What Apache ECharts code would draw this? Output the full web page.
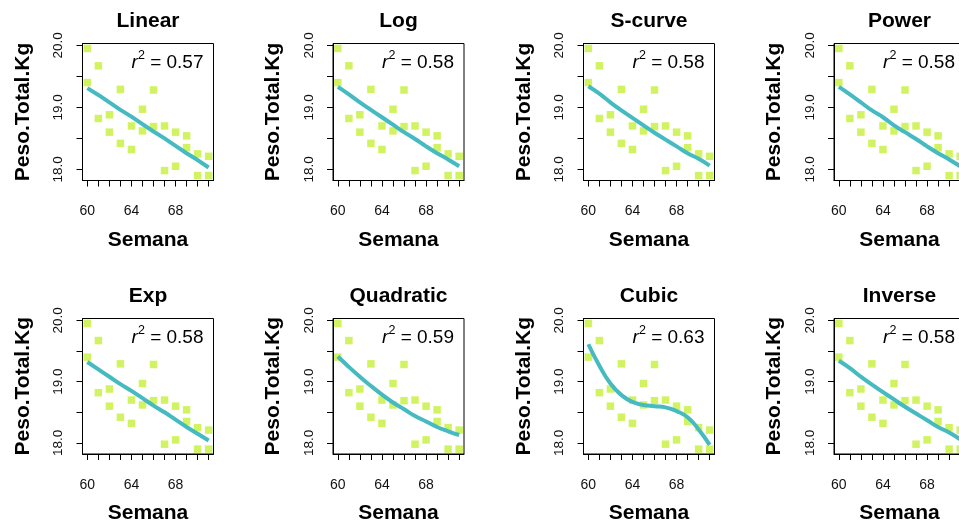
<!DOCTYPE html>
<html><head><meta charset="utf-8">
<script src="https://cdn.jsdelivr.net/npm/echarts@6/dist/echarts.min.js"></script>
<style>html,body{margin:0;padding:0;background:#fff;overflow:hidden}#c{width:1002px;height:525px}</style>
</head><body><div id="c"></div>
<script>
// ---- data ----
const weeks = [60, 61, 62, 63, 64, 65, 66, 67, 68, 69, 70, 71];
const pesoA = [19.95, 19.67, 18.88, 19.29, 18.70, 18.97, 19.28, 18.70, 18.60, 18.54, 18.25, 18.21];
const pesoB = [19.40, 18.82, 18.60, 18.42, 18.32, 18.62, 18.69, 17.98, 18.05, 18.35, 17.90, 17.90];

const modelNames = ['Linear', 'Log', 'S-curve', 'Power', 'Exp', 'Quadratic', 'Cubic', 'Inverse'];
const rSquared = ['0.57', '0.58', '0.58', '0.58', '0.58', '0.59', '0.63', '0.58'];

const fitLinear    = [19.31, 19.20, 19.08, 18.96, 18.85, 18.73, 18.61, 18.50, 18.38, 18.26, 18.15, 18.03];
const fitLog       = [19.33, 19.21, 19.08, 18.96, 18.84, 18.72, 18.60, 18.49, 18.37, 18.26, 18.16, 18.05];
const fitSCurve    = [19.34, 19.22, 19.08, 18.95, 18.83, 18.71, 18.59, 18.48, 18.37, 18.26, 18.17, 18.06];
const fitPower     = [19.33, 19.21, 19.08, 18.95, 18.84, 18.71, 18.60, 18.49, 18.37, 18.26, 18.16, 18.05];
const fitExp       = [19.32, 19.20, 19.08, 18.96, 18.85, 18.73, 18.61, 18.50, 18.38, 18.26, 18.15, 18.04];
const fitQuadratic = [19.41, 19.24, 19.08, 18.93, 18.79, 18.66, 18.55, 18.44, 18.35, 18.26, 18.19, 18.13];
const fitCubic     = [19.61, 19.26, 18.97, 18.78, 18.67, 18.62, 18.60, 18.58, 18.52, 18.42, 18.22, 17.97];
const fitInverse   = [19.34, 19.22, 19.08, 18.95, 18.83, 18.71, 18.59, 18.48, 18.37, 18.26, 18.17, 18.06];
const fits = [fitLinear, fitLog, fitSCurve, fitPower, fitExp, fitQuadratic, fitCubic, fitInverse];

const xTicks = [60, 61, 62, 63, 64, 65, 66, 67, 68, 69, 70, 71];
const xTickLabels = [60, 64, 68];
const yTicks = [18.0, 18.5, 19.0, 19.5, 20.0];
const yTickLabels = [18.0, 19.0, 20.0];

const xLabel = 'Semana';
const yLabel = 'Peso.Total.Kg';

// ---- layout & style ----
const FONT = '"Liberation Sans", Arial, sans-serif';
const POINT_COLOR = '#c5f03a';
const LINE_COLOR = '#45bac0';
const colLeft = [82.5, 333, 583.5, 834];
const rowTop = [43.5, 318.5];
const BW = 131, BH = 137;

const grids = [], xAxes = [], yAxes = [], series = [], graphics = [];
const pts = [];
weeks.forEach((w, i) => { pts.push([w, pesoA[i]]); pts.push([w, pesoB[i]]); });

modelNames.forEach((name, k) => {
  const c = k % 4, r = Math.floor(k / 4);
  const left = colLeft[c], top = rowTop[r];
  grids.push({ left: left, top: top, width: BW, height: BH, show: true,
    borderColor: '#000', borderWidth: 1, backgroundColor: 'transparent' });
  xAxes.push({
    type: 'value', gridIndex: k, min: 59.56, max: 71.44,
    axisLine: { show: true, onZero: false, lineStyle: { color: '#000', width: 1 } },
    axisTick: { show: true, length: 6, customValues: xTicks, lineStyle: { color: '#000', width: 1 } },
    axisLabel: { customValues: xTickLabels, margin: 24, fontSize: 14, color: '#111', fontFamily: FONT },
    splitLine: { show: false },
    name: xLabel, nameLocation: 'middle', nameGap: 49,
    nameTextStyle: { fontSize: 21, fontWeight: 'bold', color: '#000', fontFamily: FONT }
  });
  yAxes.push({
    type: 'value', gridIndex: k, min: 17.82, max: 20.03,
    axisLine: { show: true, onZero: false, lineStyle: { color: '#000', width: 1 } },
    axisTick: { show: true, length: 6, customValues: yTicks, lineStyle: { color: '#000', width: 1 } },
    axisLabel: { customValues: yTickLabels, rotate: 90, margin: 17, fontSize: 13.5, color: '#111',
      fontFamily: FONT, formatter: v => Number(v).toFixed(1) },
    splitLine: { show: false },
    name: yLabel, nameLocation: 'middle', nameGap: 49,
    nameTextStyle: { fontSize: 21, fontWeight: 'bold', color: '#000', fontFamily: FONT }
  });
  series.push({
    type: 'scatter', xAxisIndex: k, yAxisIndex: k, data: pts,
    symbol: 'rect', symbolSize: 7.5, itemStyle: { color: POINT_COLOR }, z: 2, silent: true
  });
  series.push({
    type: 'line', xAxisIndex: k, yAxisIndex: k,
    data: weeks.map((w, i) => [w, fits[k][i]]),
    smooth: name === 'Linear' ? false : 0.5, showSymbol: false,
    lineStyle: { color: LINE_COLOR, width: 4 }, z: 3, silent: true
  });
  graphics.push({
    type: 'text', x: left + BW / 2, y: top - 22.5,
    style: { text: name, fontSize: 21, fontWeight: 'bold', fontFamily: FONT, fill: '#000',
      align: 'center', verticalAlign: 'middle' }
  });
  graphics.push({
    type: 'text', x: left + BW - 10, y: top + 19.5,
    style: {
      text: '{r|r}{s|2}{t| = ' + rSquared[k] + '}',
      align: 'right', verticalAlign: 'middle', fill: '#000',
      rich: {
        r: { fontSize: 19, fontStyle: 'italic', fontFamily: FONT, lineHeight: 27, fill: '#000' },
        s: { fontSize: 12.5, fontFamily: FONT, verticalAlign: 'top', lineHeight: 12, fill: '#000' },
        t: { fontSize: 19, fontFamily: FONT, lineHeight: 27, fill: '#000' }
      }
    }
  });
});

const chart = echarts.init(document.getElementById('c'), null, { renderer: 'canvas' });
chart.setOption({
  backgroundColor: '#fff',
  animation: false,
  grid: grids, xAxis: xAxes, yAxis: yAxes, series: series,
  graphic: graphics
});
</script>
</body></html>
